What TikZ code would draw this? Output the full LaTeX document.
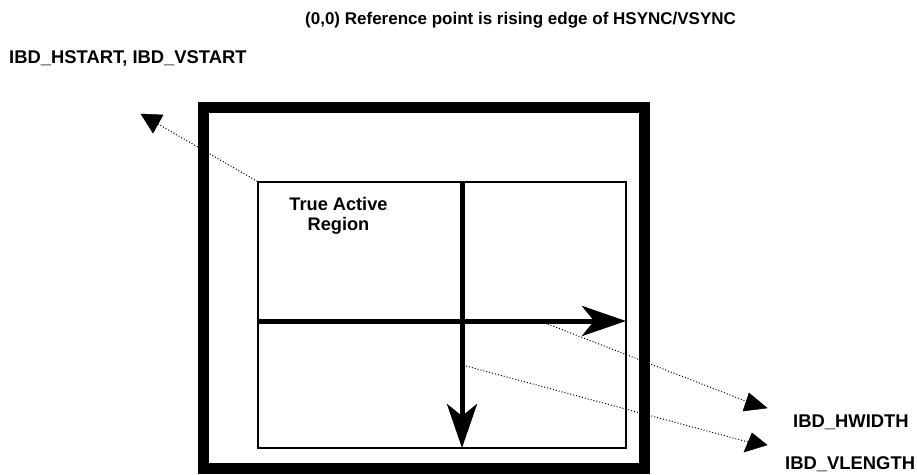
\documentclass[tikz,border=0pt]{standalone}
\usepackage{fontspec}
\setmainfont{Liberation Sans}
\usetikzlibrary{arrows.meta}
\tikzset{
  lbl/.style={font=\bfseries\fontsize{18.4}{20}\selectfont, inner sep=0pt, anchor=base west},
  bigarrow/.style={line width=5pt, -{Stealth[length=44pt,width=30pt,inset=12pt]}},
  dots/.style={dotted, line width=1pt},
  headtri/.style={fill=black, draw=black, line width=0.5pt}
}
\begin{document}
\begin{tikzpicture}[x=1pt,y=-1pt]
\useasboundingbox (0,0) rectangle (917,474);
% frame
\draw[line width=11pt] (203.5,107.5) rectangle (644.5,468.5);
\node[draw, line width=1.2pt, minimum width=368pt, minimum height=266pt, inner sep=0pt] (inner) at (442,315) {};
% named points
\coordinate (hs) at (258,321);
\coordinate (he) at (626,321);
\coordinate (vs) at (462,182);
\coordinate (ve) at (462,448);
\draw[bigarrow] (hs) -- (he);
\draw[bigarrow] (vs) -- (ve);
% labels
\node[lbl, font=\bfseries\fontsize{17}{20}\selectfont] (title) at (305,24) {(0,0) Reference point is rising edge of HSYNC/VSYNC};
\node[lbl] (start) at (9,63) {IBD\_HSTART, IBD\_VSTART};
\node[lbl, anchor=base, align=center, font=\bfseries\fontsize{18.2}{20}\selectfont] (tar) at (338.5,230) {True Active\\Region};
\node[lbl] (hw) at (793,427) {IBD\_HWIDTH};
\node[lbl] (vl) at (785,469) {IBD\_VLENGTH};
% dotted leaders
\coordinate (t1) at (158,124);
\coordinate (t2) at (748,402);
\coordinate (t3) at (748,442);
\coordinate (s2) at (545,323);
\coordinate (s3) at (466,366);
\draw[dots] (inner.north west) -- (t1);
\draw[dots] (s2) -- (t2);
\draw[dots] (s3) -- (t3);
\fill[headtri] (141,114) -- (163,115) -- (153,133) -- cycle;
\fill[headtri] (749,393) -- (767,408) -- (743,411) -- cycle;
\fill[headtri] (752,433) -- (767,445) -- (744,452) -- cycle;
\end{tikzpicture}
\end{document}
